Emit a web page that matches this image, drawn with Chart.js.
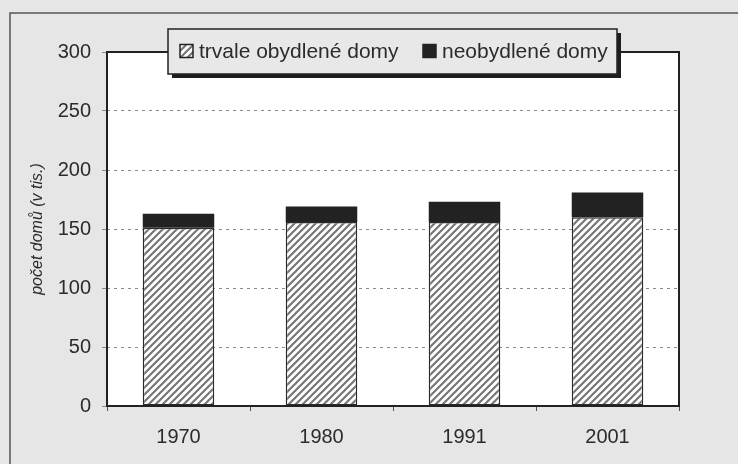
<!DOCTYPE html>
<html>
<head>
<meta charset="utf-8">
<script src="https://cdn.jsdelivr.net/npm/chart.js@4/dist/chart.umd.min.js"></script>
<style>
  html, body { margin: 0; padding: 0; background: #e6e6e6; }
  #wrap { width: 738px; height: 464px; }
</style>
</head>
<body>
<div id="wrap"><canvas id="chart" width="738" height="464"></canvas></div>
<script>
// data (thousands of houses)
const years = ['1970', '1980', '1991', '2001'];
const occupied = [151, 156, 156, 160];
const unoccupied = [12, 13, 17, 21];
const yTicks = [0, 50, 100, 150, 200, 250, 300];

const FONT = "'Liberation Sans', Arial, sans-serif";
const TEXT = '#2b2b2b';

// hatch pattern for the permanently occupied houses
function makeHatch() {
  const c = document.createElement('canvas');
  c.width = 7; c.height = 7;
  const g = c.getContext('2d');
  g.fillStyle = '#ffffff';
  g.fillRect(0, 0, 7, 7);
  g.strokeStyle = '#777777';
  g.lineWidth = 2.2;
  g.beginPath();
  g.moveTo(-1, 8); g.lineTo(8, -1);
  g.moveTo(-4, 4); g.lineTo(4, -4);
  g.moveTo(3, 11); g.lineTo(11, 3);
  g.stroke();
  return g.createPattern(c, 'repeat');
}
const hatch = makeHatch();

// background, outer frame and plot border
const framePlugin = {
  id: 'frame',
  beforeDraw(chart) {
    const ctx = chart.ctx;
    const a = chart.chartArea;
    ctx.save();
    ctx.fillStyle = '#e6e6e6';
    ctx.fillRect(0, 0, chart.width, chart.height);
    ctx.strokeStyle = '#555';
    ctx.lineWidth = 1.5;
    ctx.beginPath();
    ctx.moveTo(10, chart.height + 2);
    ctx.lineTo(10, 13);
    ctx.lineTo(chart.width + 2, 13);
    ctx.stroke();
    ctx.fillStyle = '#ffffff';
    ctx.fillRect(a.left, a.top, a.right - a.left, a.bottom - a.top);
    ctx.restore();
  },
  afterDatasetsDraw(chart) {
    const ctx = chart.ctx;
    const a = chart.chartArea;
    ctx.save();
    ctx.strokeStyle = '#222';
    ctx.lineWidth = 2;
    ctx.strokeRect(a.left, a.top, a.right - a.left, a.bottom - a.top);
    ctx.restore();
  }
};

// legend box with shadow, overlapping the top of the plot
const legendPlugin = {
  id: 'boxLegend',
  afterDraw(chart) {
    const ctx = chart.ctx;
    const x = 168, y = 29, w = 449, h = 45;
    ctx.save();
    ctx.fillStyle = '#1e1e1e';
    ctx.fillRect(x + 4, y + 4, w, h);
    ctx.fillStyle = '#e8e8e8';
    ctx.fillRect(x, y, w, h);
    ctx.strokeStyle = '#222';
    ctx.lineWidth = 1.5;
    ctx.strokeRect(x, y, w, h);

    const items = chart.data.datasets;
    const starts = [180, 423];
    const cy = y + h / 2;
    ctx.font = '21px ' + FONT;
    ctx.textBaseline = 'middle';
    items.forEach((ds, i) => {
      const mx = starts[i], my = cy - 7;
      ctx.fillStyle = ds.backgroundColor;
      ctx.fillRect(mx, my, 13, 13);
      ctx.strokeStyle = '#222';
      ctx.lineWidth = 1.5;
      ctx.strokeRect(mx, my, 13, 13);
      ctx.fillStyle = TEXT;
      ctx.fillText(ds.label, mx + 19, cy + 1);
    });
    ctx.restore();
  }
};

new Chart(document.getElementById('chart'), {
  type: 'bar',
  data: {
    labels: years,
    datasets: [{
      label: 'trvale obydlené domy',
      data: occupied,
      backgroundColor: hatch,
      borderColor: '#2a2a2a',
      borderWidth: 1.5,
      borderSkipped: false,
      categoryPercentage: 1,
      barPercentage: 0.5
    }, {
      label: 'neobydlené domy',
      data: unoccupied,
      backgroundColor: '#222222',
      borderColor: '#222222',
      borderWidth: 0,
      categoryPercentage: 1,
      barPercentage: 0.5
    }]
  },
  options: {
    responsive: false,
    animation: false,
    layout: { padding: { top: 52, right: 59, left: 10, bottom: 0 } },
    plugins: {
      legend: { display: false },
      tooltip: { enabled: false }
    },
    scales: {
      x: {
        stacked: true,
        afterFit(scale) { scale.height = 464 - 406; },
        grid: {
          display: true,
          drawOnChartArea: false,
          offset: true,
          tickLength: 5,
          color: '#555'
        },
        border: { display: false },
        ticks: {
          font: { family: FONT, size: 20 },
          color: TEXT,
          padding: 14
        }
      },
      y: {
        stacked: true,
        min: 0,
        max: 300,
        afterFit(scale) { scale.width = 97; },
        afterBuildTicks(scale) { scale.ticks = yTicks.map(v => ({ value: v })); },
        grid: {
          color: '#8a8a8a',
          tickLength: 5,
          lineWidth: 1
        },
        border: { display: false, dash: [3, 4] },
        ticks: {
          font: { family: FONT, size: 20 },
          color: TEXT,
          padding: 11
        },
        title: {
          display: true,
          text: 'počet domů (v tis.)',
          font: { family: FONT, size: 16, style: 'italic' },
          color: TEXT,
          padding: { top: 18, bottom: 0 }
        }
      }
    }
  },
  plugins: [framePlugin, legendPlugin]
});
</script>
</body>
</html>
